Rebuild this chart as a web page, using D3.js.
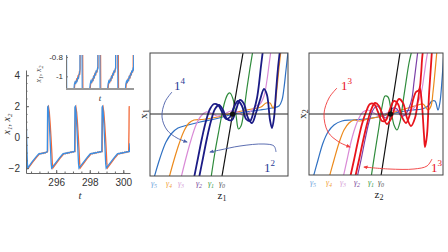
<!DOCTYPE html>
<html>
<head>
<meta charset="utf-8">
<script src="https://cdn.jsdelivr.net/npm/d3@7"></script>
<style>
body { margin: 0; background: #fff; }
svg { display: block; }
</style>
</head>
<body>
<div id="chart"></div>
<script>
// ---- left panel: time series x1 (blue) and x2 (orange) ----
var seriesBlue = [
  [294.20, 1.55], [294.23, 0.4], [294.26, -0.9], [294.28, -1.6], [294.30, -2.0], [294.55, -1.62], [294.80, -1.28], [294.96, -1.08],
  [295.02, -1.06], [295.08, -1.08], [295.14, -1.04], [295.20, -1.06], [295.26, -1.01], [295.32, -1.03], [295.38, -0.98], [295.44, -0.97], [295.47, -0.93],
  [295.48, 0.6], [295.49, 1.95], [295.51, 1.98], [295.55, 1.6], [295.59, 0.9], [295.63, 0.0], [295.67, -1.0], [295.70, -1.7], [295.73, -2.0],
  [295.98, -1.65], [296.23, -1.3], [296.40, -1.08],
  [296.46, -1.05], [296.52, -1.07], [296.58, -1.03], [296.64, -1.05], [296.70, -1.0], [296.76, -1.02], [296.82, -0.97], [296.88, -0.99], [296.94, -0.94], [297.00, -0.96], [297.06, -0.92], [297.10, -0.93],
  [297.11, 0.6], [297.12, 1.95], [297.14, 1.98], [297.18, 1.6], [297.22, 0.9], [297.26, 0.0], [297.30, -1.0], [297.33, -1.7], [297.36, -2.0],
  [297.61, -1.65], [297.86, -1.3], [298.03, -1.08],
  [298.09, -1.05], [298.15, -1.07], [298.21, -1.03], [298.27, -1.05], [298.33, -1.0], [298.39, -1.02], [298.45, -0.97], [298.51, -0.99], [298.57, -0.94], [298.63, -0.96], [298.69, -0.92], [298.72, -0.93],
  [298.73, 0.6], [298.74, 1.95], [298.76, 1.98], [298.80, 1.6], [298.84, 0.9], [298.88, 0.0], [298.92, -1.0], [298.95, -1.7], [298.98, -2.0],
  [299.23, -1.65], [299.48, -1.3], [299.65, -1.08],
  [299.71, -1.05], [299.77, -1.07], [299.83, -1.03], [299.89, -1.05], [299.95, -1.0], [300.01, -1.02], [300.07, -0.97], [300.13, -0.99], [300.19, -0.94], [300.25, -0.96], [300.31, -0.92], [300.36, -0.93],
  [300.38, -0.7], [300.40, -0.4]
];
var seriesOrange = [
  [294.22, -1.2], [294.29, -1.85], [294.34, -2.0], [294.60, -1.62], [294.85, -1.28], [295.00, -1.09],
  [295.05, -1.05], [295.11, -1.07], [295.17, -1.02], [295.23, -1.05], [295.29, -0.99], [295.35, -1.02], [295.41, -0.96], [295.46, -0.97], [295.49, -0.92],
  [295.50, 0.5], [295.51, 1.9], [295.54, 1.97], [295.59, 1.6], [295.64, 0.9], [295.69, 0.0], [295.74, -1.0], [295.77, -1.7], [295.80, -2.0],
  [296.04, -1.65], [296.28, -1.3], [296.44, -1.09],
  [296.49, -1.05], [296.55, -1.07], [296.61, -1.02], [296.67, -1.05], [296.73, -0.99], [296.79, -1.02], [296.85, -0.96], [296.91, -0.99], [296.97, -0.94], [297.03, -0.96], [297.09, -0.91], [297.12, -0.92],
  [297.13, 0.5], [297.14, 1.9], [297.17, 1.97], [297.22, 1.6], [297.27, 0.9], [297.32, 0.0], [297.37, -1.0], [297.40, -1.7], [297.43, -2.0],
  [297.67, -1.65], [297.91, -1.3], [298.07, -1.09],
  [298.12, -1.05], [298.18, -1.07], [298.24, -1.02], [298.30, -1.05], [298.36, -0.99], [298.42, -1.02], [298.48, -0.96], [298.54, -0.99], [298.60, -0.94], [298.66, -0.96], [298.71, -0.91], [298.74, -0.92],
  [298.75, 0.5], [298.76, 1.9], [298.79, 1.97], [298.84, 1.6], [298.89, 0.9], [298.94, 0.0], [298.99, -1.0], [299.02, -1.7], [299.05, -2.0],
  [299.29, -1.65], [299.53, -1.3], [299.69, -1.09],
  [299.74, -1.05], [299.80, -1.07], [299.86, -1.02], [299.92, -1.05], [299.98, -0.99], [300.04, -1.02], [300.10, -0.96], [300.16, -0.99], [300.22, -0.94], [300.28, -0.96], [300.32, -0.92],
  [300.34, 0.5], [300.35, 1.9], [300.36, 2.0]
];
var mainYTicks = [-2, 0, 2, 4];
var mainXTicks = [296, 298, 300];
var insetYTicks = [-1, -0.8];

// ---- middle panel: (z1, x1) curves gamma0..gamma5 ----
var g0Mid = [[7.2, -6.2], [9.3, 6.1]];
var g1Mid = [[6.1, -6.4], [6.5, -3.8], [6.9, -1.6], [7.2, 0], [7.5, 1.3], [7.8, 2.0], [8.0, 2.1], [8.3, 1.5], [8.6, -0.1], [8.85, -1.5], [9.1, -1.2], [9.4, 0.4], [9.7, 2.6], [10.0, 4.6], [10.3, 6.4]];
var g2MidA = [[4.9, -6.4], [5.3, -4.4], [5.7, -2.4], [6.1, -0.7], [6.5, 0.5], [6.9, 0.9], [7.3, 0.4], [7.7, -0.5], [8.2, -0.6], [8.6, 0.4], [9.0, 1.4], [9.4, 1.0], [9.8, -0.4], [10.2, -0.9], [10.6, 0.1], [11.0, 1.4], [11.4, 2.5], [11.7, 1.9], [12.0, -0.6], [12.2, -1.4], [12.4, -0.4], [12.6, 2.2], [12.8, 4.6], [13.0, 6.4]];
var g2MidB = [[4.4, -6.4], [4.8, -4.4], [5.2, -2.4], [5.6, -0.7], [6.0, 0.5], [6.4, 1.0], [6.8, 0.9], [7.2, 0.2], [7.6, -0.5], [8.0, -0.3], [8.4, 0.7], [8.8, 1.3], [9.2, 0.8], [9.6, -0.5], [10.0, -0.7], [10.4, 0.4], [10.7, 1.6], [10.9, 3.0], [11.1, 4.8], [11.3, 6.4]];
var g3Mid = [[3.1, -6.4], [3.6, -4.4], [4.1, -2.6], [4.6, -1.1], [5.1, -0.2], [5.6, 0.2], [6.1, 0.1], [6.7, -0.2], [7.4, 0.0], [8.1, 0.3], [8.8, 0.2], [9.4, -0.2], [10.0, 0.2], [10.6, 0.8], [11.0, 1.0], [11.4, 1.8], [11.7, 3.4], [11.9, 4.9], [12.1, 6.4]];
var g4Mid = [[1.9, -6.4], [2.4, -4.6], [2.9, -3.0], [3.4, -1.7], [3.9, -0.9], [4.4, -0.6], [5.2, -0.55], [6.2, -0.4], [7.2, -0.2], [8.2, 0.1], [9.2, 0.3], [10.2, 0.5], [11.1, 0.7], [11.6, 1.1], [12.0, 1.1], [12.3, 0.6], [12.5, 1.0], [12.7, 2.6], [12.9, 4.6], [13.1, 6.4]];
var g5Mid = [[0.4, -6.4], [1.0, -4.4], [1.6, -2.8], [2.2, -1.9], [2.8, -1.4], [3.8, -1.1], [5.0, -0.8], [6.5, -0.5], [8.0, -0.1], [9.5, 0.2], [11.0, 0.4], [12.2, 0.6], [12.9, 0.8], [13.2, 1.4], [13.4, 2.6], [13.6, 4.4], [13.8, 6.2]];
var fixedMid = [8.25, 0];

// ---- right panel: (z2, x2) curves ----
var g0Right = [[7.2, -6.2], [9.1, 6.1]];
var g1Right = [[6.2, -6.4], [6.6, -3.8], [7.0, -1.3], [7.3, 0.7], [7.6, 1.8], [7.9, 1.7], [8.2, 0.4], [8.5, -1.1], [8.8, -1.6], [9.1, -0.8], [9.4, 1.2], [9.7, 3.2], [10.0, 5.1], [10.3, 6.4]];
var g2Right = [[4.8, -6.4], [5.2, -4.6], [5.6, -2.6], [6.0, -0.8], [6.4, 0.4], [6.8, 0.8], [7.2, 0.4], [7.6, -0.4], [8.0, -0.1], [8.4, 0.6], [8.8, 0.5], [9.2, -0.2], [9.6, -0.1], [10.0, 0.6], [10.3, 1.6], [10.5, 3.2], [10.7, 4.8], [10.9, 6.4]];
var g3Right = [[3.4, -6.4], [3.8, -4.6], [4.2, -2.8], [4.6, -1.4], [5.0, -0.4], [5.4, 0.2], [5.9, 0.4], [6.5, 0.1], [7.1, -0.2], [7.8, 0.1], [8.5, 0.4], [9.1, 0.2], [9.7, -0.1], [10.3, 0.4], [10.8, 1.0], [11.2, 2.0], [11.5, 3.8], [11.7, 5.2], [11.9, 6.4]];
var g4Right = [[2.0, -6.4], [2.5, -4.6], [3.0, -2.9], [3.5, -1.6], [4.0, -0.9], [4.5, -0.6], [5.1, -0.7], [5.9, -0.5], [6.9, -0.3], [7.9, 0], [8.9, 0.3], [9.9, 0.6], [10.9, 0.9], [11.4, 1.0], [11.9, 0.4], [12.2, 0.8], [12.4, 2.2], [12.6, 4.2], [12.8, 6.4]];
var g5Right = [[0.4, -6.4], [0.9, -4.6], [1.4, -2.9], [1.9, -1.8], [2.5, -1.1], [3.3, -0.7], [4.3, -0.6], [5.6, -0.5], [6.9, -0.3], [8.1, 0], [9.1, 0.2], [10.3, 0.4], [11.3, 0.5], [11.9, 0.8], [12.3, 1.3], [12.6, 1.3], [12.9, 0.4], [13.1, 1.2], [13.3, 3.4], [13.5, 6.4]];
var redRightA = [[4.1, -6.4], [4.5, -4.6], [4.9, -2.7], [5.3, -1.0], [5.7, 0.2], [6.1, 1.0], [6.5, 1.0], [6.9, 0.2], [7.3, -0.7], [7.7, -0.6], [8.1, 0.5], [8.5, 1.3], [8.9, 1.0], [9.3, -0.3], [9.7, -0.9], [10.1, 0], [10.4, 1.4], [10.7, 2.2], [11.0, 2.4], [11.2, 3.9], [11.3, 5.4], [11.4, 6.4]];
var redRightB = [[4.6, -6.4], [5.0, -4.6], [5.4, -2.7], [5.8, -1.0], [6.2, 0.4], [6.6, 1.1], [7.0, 0.8], [7.4, -0.3], [7.8, -1.0], [8.2, -0.5], [8.6, 0.7], [9.0, 1.5], [9.4, 1.1], [9.8, -0.4], [10.2, -1.2], [10.6, -0.4], [10.9, 1.4], [11.1, 2.6], [11.3, 0.9], [11.5, -2.1], [11.6, -3.3], [11.8, -2.1], [12.0, 1.9], [12.2, 4.9], [12.3, 6.4]];
var fixedRight = [8.15, 0];

// annotation arrows (same units as the panels)
var arrow14 = [[2.2, 2.2], [1.5, 1.2], [1.2, -0.3], [1.7, -1.6], [2.7, -2.4], [3.7, -2.8]];
var arrow12 = [[12.6, -3.8], [12.4, -3.2], [11.4, -3.0], [9.0, -3.2], [7.0, -3.6], [6.0, -3.8]];
var arrow13a = [[2.8, 2.6], [2.0, 1.6], [1.5, 0], [1.9, -1.8], [3.0, -2.8], [4.1, -3.3]];
var arrow13b = [[12.3, -4.5], [11.8, -5.2], [10.5, -5.5], [8.0, -5.5], [5.5, -5.3]];

var svg = d3.select("#chart").append("svg")
  .attr("width", 448)
  .attr("height", 252);

var defs = svg.append("defs");
function addMarker(id, color) {
  defs.append("marker")
    .attr("id", id)
    .attr("viewBox", "0 0 10 10")
    .attr("refX", 8).attr("refY", 5)
    .attr("markerWidth", 5).attr("markerHeight", 5)
    .attr("orient", "auto")
    .append("path")
    .attr("d", "M0,1 L10,5 L0,9 Z")
    .attr("fill", color);
}
addMarker("arrBlue", "#4a5ea8");
addMarker("arrRed", "#f03a3a");

function addClip(id, x, y, w, h) {
  defs.append("clipPath").attr("id", id)
    .append("rect").attr("x", x).attr("y", y).attr("width", w).attr("height", h);
}

var serif = "Liberation Serif, DejaVu Serif, serif";
var sans = "Liberation Sans, Arial, sans-serif";

// ================= left panel =================
var xT = d3.scaleLinear().domain([294.2, 300.4]).range([26, 130]);
var yX = d3.scaleLinear().domain([-2.32, 4.34]).range([173, 70]);

addClip("clipMain", 26, 60, 104, 114);
var lineMain = d3.line().x(d => xT(d[0])).y(d => yX(d[1]));

var mainG = svg.append("g").attr("clip-path", "url(#clipMain)");
mainG.append("path").attr("d", lineMain(seriesOrange))
  .attr("fill", "none").attr("stroke", "#f26a3a").attr("stroke-width", 1.3);
mainG.append("path").attr("d", lineMain(seriesBlue))
  .attr("fill", "none").attr("stroke", "#3b8fe3").attr("stroke-width", 1.3);

// axes, ticks pointing inward
var yAxisMain = svg.append("g").attr("transform", "translate(26,0)")
  .call(d3.axisLeft(yX).tickValues(mainYTicks).tickFormat(d3.format("d")).tickSize(-3).tickSizeOuter(0).tickPadding(6));
svg.append("g").attr("transform", "translate(26,0)")
  .call(d3.axisLeft(yX).tickValues(d3.range(-2, 4.5, 0.5)).tickFormat("").tickSize(-1.5).tickSizeOuter(0))
  .select(".domain").remove();
var xAxisMain = svg.append("g").attr("transform", "translate(0,173)")
  .call(d3.axisBottom(xT).tickValues(mainXTicks).tickFormat(d3.format("d")).tickSize(-3).tickSizeOuter(0).tickPadding(6));
svg.append("g").attr("transform", "translate(0,173)")
  .call(d3.axisBottom(xT).tickValues(d3.range(294.5, 300.5, 0.5)).tickFormat("").tickSize(-1.5).tickSizeOuter(0))
  .select(".domain").remove();

svg.selectAll(".tick line, .domain").attr("stroke", "#666");
[yAxisMain, xAxisMain].forEach(function(a) {
  a.selectAll("text").attr("font-family", sans).attr("font-size", 10).attr("fill", "#333");
});

// axis labels
svg.append("text")
  .attr("transform", "translate(10,124) rotate(-90)")
  .attr("text-anchor", "middle")
  .attr("font-family", serif).attr("font-style", "italic").attr("font-size", 10).attr("fill", "#333")
  .html('x<tspan font-size="7" dy="2">1</tspan><tspan dy="-2">, x</tspan><tspan font-size="7" dy="2">2</tspan>');
svg.append("text")
  .attr("x", 80).attr("y", 199)
  .attr("text-anchor", "middle")
  .attr("font-family", serif).attr("font-style", "italic").attr("font-size", 11).attr("fill", "#333")
  .text("t");

// ----- inset -----
var xI = d3.scaleLinear().domain([294.2, 300.4]).range([66, 134]);
var yI = d3.scaleLinear().domain([-1.13, -0.78]).range([89, 55]);
addClip("clipInset", 66, 55, 68, 34);
var lineInset = d3.line().x(d => xI(d[0])).y(d => yI(d[1]));
var insetG = svg.append("g").attr("clip-path", "url(#clipInset)");
insetG.append("path").attr("d", lineInset(seriesOrange))
  .attr("fill", "none").attr("stroke", "#f26a3a").attr("stroke-width", 1.1);
insetG.append("path").attr("d", lineInset(seriesBlue))
  .attr("fill", "none").attr("stroke", "#3b8fe3").attr("stroke-width", 1.1);

var yAxisInset = svg.append("g").attr("transform", "translate(66,0)")
  .call(d3.axisLeft(yI).tickValues(insetYTicks).tickSize(-2).tickSizeOuter(0).tickPadding(3)
    .tickFormat(d => d === -1 ? "-1" : "-0.8"));
yAxisInset.selectAll("text").attr("font-family", sans).attr("font-size", 8).attr("fill", "#333");
yAxisInset.selectAll("line, .domain").attr("stroke", "#777");
svg.append("line")
  .attr("x1", xI(294.2)).attr("x2", xI(300.4))
  .attr("y1", yI(-1.13)).attr("y2", yI(-1.13))
  .attr("stroke", "#999").attr("stroke-width", 2);

svg.append("text")
  .attr("transform", "translate(41,74) rotate(-90)")
  .attr("text-anchor", "middle")
  .attr("font-family", serif).attr("font-style", "italic").attr("font-size", 8).attr("fill", "#444")
  .html('x<tspan font-size="6" dy="1.5">1</tspan><tspan dy="-1.5">, x</tspan><tspan font-size="6" dy="1.5">2</tspan>');
svg.append("text")
  .attr("x", 100).attr("y", 101)
  .attr("text-anchor", "middle")
  .attr("font-family", serif).attr("font-style", "italic").attr("font-size", 9).attr("fill", "#333")
  .text("t");

// ================= phase panels =================
var curveLine = function(zs, vs) {
  return d3.line().curve(d3.curveCatmullRom.alpha(0.5)).x(d => zs(d[0])).y(d => vs(d[1]));
};

function drawPanel(opt) {
  var zs = d3.scaleLinear().domain(opt.zDomain).range([opt.left, opt.right]);
  var vs = d3.scaleLinear().domain(opt.vDomain).range([opt.bottom, opt.top]);
  addClip(opt.id, opt.left, opt.top, opt.right - opt.left, opt.bottom - opt.top);
  var line = curveLine(zs, vs);

  var g = svg.append("g").attr("clip-path", "url(#" + opt.id + ")");
  // zero line
  svg.append("line")
    .attr("x1", opt.left).attr("x2", opt.right)
    .attr("y1", vs(0)).attr("y2", vs(0))
    .attr("stroke", "#222").attr("stroke-width", 1);

  opt.curves.forEach(function(c) {
    g.append("path").attr("d", line(c.data))
      .attr("fill", "none").attr("stroke", c.color).attr("stroke-width", c.width || 1.2);
  });

  svg.append("circle")
    .attr("cx", zs(opt.fixed[0])).attr("cy", vs(opt.fixed[1]))
    .attr("r", 2.6).attr("fill", "#111");

  // box
  svg.append("rect")
    .attr("x", opt.left).attr("y", opt.top)
    .attr("width", opt.right - opt.left).attr("height", opt.bottom - opt.top)
    .attr("fill", "none").attr("stroke", "#444").attr("stroke-width", 1);

  // arrows
  opt.arrows.forEach(function(a) {
    svg.append("path").attr("d", line(a.data))
      .attr("fill", "none").attr("stroke", a.color).attr("stroke-width", 0.9)
      .attr("marker-end", "url(#" + a.marker + ")");
  });

  // 1^n labels
  opt.notes.forEach(function(n) {
    svg.append("text")
      .attr("x", zs(n.at[0])).attr("y", vs(n.at[1]))
      .attr("font-family", serif).attr("font-size", 13).attr("fill", n.color)
      .html('1<tspan font-size="9" dy="-6">' + n.sup + '</tspan>');
  });

  // gamma labels under the box at each curve's foot
  opt.gammas.forEach(function(gm) {
    svg.append("text")
      .attr("x", zs(gm.data[0][0])).attr("y", opt.bottom + 10)
      .attr("text-anchor", "middle")
      .attr("font-family", serif).attr("font-style", "italic").attr("font-size", 8).attr("fill", gm.color)
      .html('γ<tspan font-size="6" dy="1.5">' + gm.k + '</tspan>');
  });

  // axis titles
  svg.append("text")
    .attr("transform", "translate(" + (opt.left - 3) + "," + vs(0) + ") rotate(-90)")
    .attr("text-anchor", "middle")
    .attr("font-family", serif).attr("font-size", 11).attr("fill", "#222")
    .html('x<tspan font-size="8" dy="2">' + opt.idx + '</tspan>');
  svg.append("text")
    .attr("x", (opt.left + opt.right) / 2 + 3).attr("y", opt.bottom + 23)
    .attr("text-anchor", "middle")
    .attr("font-family", serif).attr("font-size", 11).attr("fill", "#222")
    .html('z<tspan font-size="8" dy="2">' + opt.idx + '</tspan>');
}

drawPanel({
  id: "clipMid", idx: "1",
  left: 150, right: 288, top: 53, bottom: 176,
  zDomain: [0, 13.8], vDomain: [-6.2, 6.1],
  curves: [
    { data: g5Mid, color: "#2f70c2" },
    { data: g4Mid, color: "#ec8a1c" },
    { data: g3Mid, color: "#d98ad6" },
    { data: g1Mid, color: "#2e8b3b" },
    { data: g0Mid, color: "#111" },
    { data: g2MidB, color: "#1b1b86", width: 1.8 },
    { data: g2MidA, color: "#1b1b86", width: 1.8 }
  ],
  fixed: fixedMid,
  arrows: [
    { data: arrow14, color: "#4a5ea8", marker: "arrBlue" },
    { data: arrow12, color: "#4a5ea8", marker: "arrBlue" }
  ],
  notes: [
    { at: [2.4, 2.4], sup: "4", color: "#2a3a96" },
    { at: [11.4, -5.8], sup: "2", color: "#2a3a96" }
  ],
  gammas: [
    { data: g5Mid, k: "5", color: "#6fa3dc" },
    { data: g4Mid, k: "4", color: "#f0a040" },
    { data: g3Mid, k: "3", color: "#d6a0d6" },
    { data: g2MidA, k: "2", color: "#7a3f9a" },
    { data: g1Mid, k: "1", color: "#3d9a4a" },
    { data: g0Mid, k: "0", color: "#555" }
  ]
});

drawPanel({
  id: "clipRight", idx: "2",
  left: 309, right: 443, top: 53, bottom: 175,
  zDomain: [0, 13.4], vDomain: [-6.1, 6.1],
  curves: [
    { data: g5Right, color: "#2f70c2" },
    { data: g4Right, color: "#ec8a1c" },
    { data: g3Right, color: "#d98ad6" },
    { data: g2Right, color: "#7b3fa8" },
    { data: g1Right, color: "#2e8b3b" },
    { data: g0Right, color: "#111" },
    { data: redRightA, color: "#e8141c", width: 1.8 },
    { data: redRightB, color: "#e8141c", width: 1.8 }
  ],
  fixed: fixedRight,
  arrows: [
    { data: arrow13a, color: "#f03a3a", marker: "arrRed" },
    { data: arrow13b, color: "#f03a3a", marker: "arrRed" }
  ],
  notes: [
    { at: [3.2, 2.4], sup: "3", color: "#e8141c" },
    { at: [12.2, -5.8], sup: "3", color: "#e8141c" }
  ],
  gammas: [
    { data: g5Right, k: "5", color: "#6fa3dc" },
    { data: g4Right, k: "4", color: "#f0a040" },
    { data: g3Right, k: "3", color: "#d6a0d6" },
    { data: g2Right, k: "2", color: "#7a3f9a" },
    { data: g1Right, k: "1", color: "#3d9a4a" },
    { data: g0Right, k: "0", color: "#555" }
  ]
});
</script>
</body>
</html>
